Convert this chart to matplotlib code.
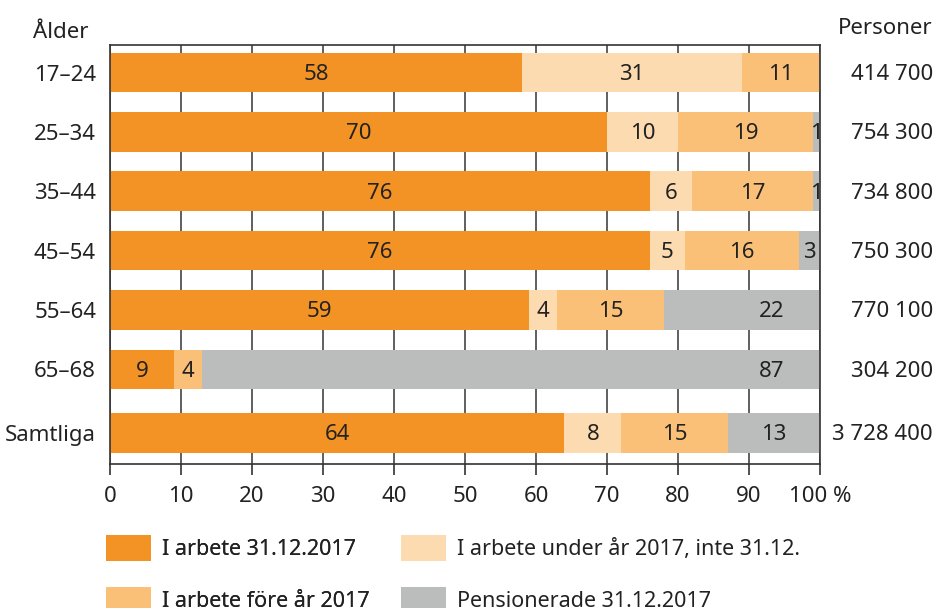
import numpy as np
import matplotlib
matplotlib.use("Agg")
import matplotlib.pyplot as plt
import matplotlib.transforms as mtransforms
from matplotlib.patches import Patch

plt.rcParams['font.family'] = ['Noto Sans', 'DejaVu Sans']

# data
ages = ['17–24', '25–34', '35–44', '45–54', '55–64', '65–68', 'Samtliga']
in_work_3112 = [58, 70, 76, 76, 59, 9, 64]
in_work_during = [31, 10, 6, 5, 4, 0, 8]
in_work_before = [11, 19, 17, 16, 15, 4, 15]
retired = [0, 1, 1, 3, 22, 87, 13]
persons = ['414 700', '754 300', '734 800', '750 300', '770 100', '304 200', '3 728 400']

series_names = ['I arbete 31.12.2017', 'I arbete under år 2017, inte 31.12.',
                'I arbete före år 2017', 'Pensionerade 31.12.2017']
colors = ['#F39325', '#FDDBB0', '#FBC078', '#BBBCBC']

fs = 16
txt = '#222222'

fig = plt.figure(figsize=(9.37, 6.08), dpi=100)
ax = fig.add_axes([110/937, 1 - 464/608, 710/937, 419/608])

y = np.arange(len(ages), dtype=float)
y[-1] += 0.07  # small extra gap before the total row
h = 0.667

series = [in_work_3112, in_work_during, in_work_before, retired]
left = np.zeros(len(ages))
for k, vals in enumerate(series):
    vals = np.array(vals, dtype=float)
    ax.barh(y, vals, left=left, height=h, color=colors[k], zorder=2)
    for i, v in enumerate(vals):
        if v <= 0:
            continue
        if k == 3:
            xc = 100 - min(v, 13.5) / 2
        else:
            xc = left[i] + v / 2
        ax.text(xc, y[i] + 0.03, f'{int(v)}', ha='center', va='center',
                fontsize=fs, color=txt, zorder=3)
    left += vals

ax.set_xlim(0, 100)
ax.set_ylim(y[-1] + h / 2 + 0.19, -h / 2 - 0.13)
ax.set_xticks(range(0, 101, 10))
ax.set_xticklabels([str(v) for v in range(0, 100, 10)] + ['100 %'])
ax.set_yticks(y)
ax.set_yticklabels(ages)
ax.tick_params(axis='x', direction='out', length=8, width=1.2, color='#333333',
               labelsize=fs, labelcolor=txt, pad=8)
ax.tick_params(axis='y', length=0, labelsize=fs, labelcolor=txt, pad=10)
ax.xaxis.grid(True, color='#444444', lw=1.2, zorder=0)
ax.set_axisbelow(True)
for s in ax.spines.values():
    s.set_color('#333333')
    s.set_linewidth(1.2)

# persons column on the right
trans = mtransforms.blended_transform_factory(fig.transFigure, ax.transData)
for i, p in enumerate(persons):
    ax.text(933/937, y[i] + 0.03, p, transform=trans,
            ha='right', va='center', fontsize=fs, color=txt)
fig.text(933/937, 1 - 28/608, 'Personer', ha='right', va='center', fontsize=fs, color=txt)
fig.text(33/937, 1 - 33/608, 'Ålder', ha='left', va='center', fontsize=fs, color=txt)

handles = [Patch(facecolor=c, edgecolor='none') for c in colors]
leg_kw = dict(loc='upper left', frameon=False, fontsize=15.5, handlelength=2.1,
              handleheight=1.5, handletextpad=0.5, labelspacing=1.2,
              labelcolor=txt, borderaxespad=0)
leg1 = fig.legend([handles[0], handles[2]], [series_names[0], series_names[2]],
                  bbox_to_anchor=(97/937, 1 - 526/608), **leg_kw)
leg2 = fig.legend([handles[1], handles[3]], [series_names[1], series_names[3]],
                  bbox_to_anchor=(392/937, 1 - 526/608), **leg_kw)
fig.add_artist(leg1)

plt.savefig('out.png', dpi=100)
